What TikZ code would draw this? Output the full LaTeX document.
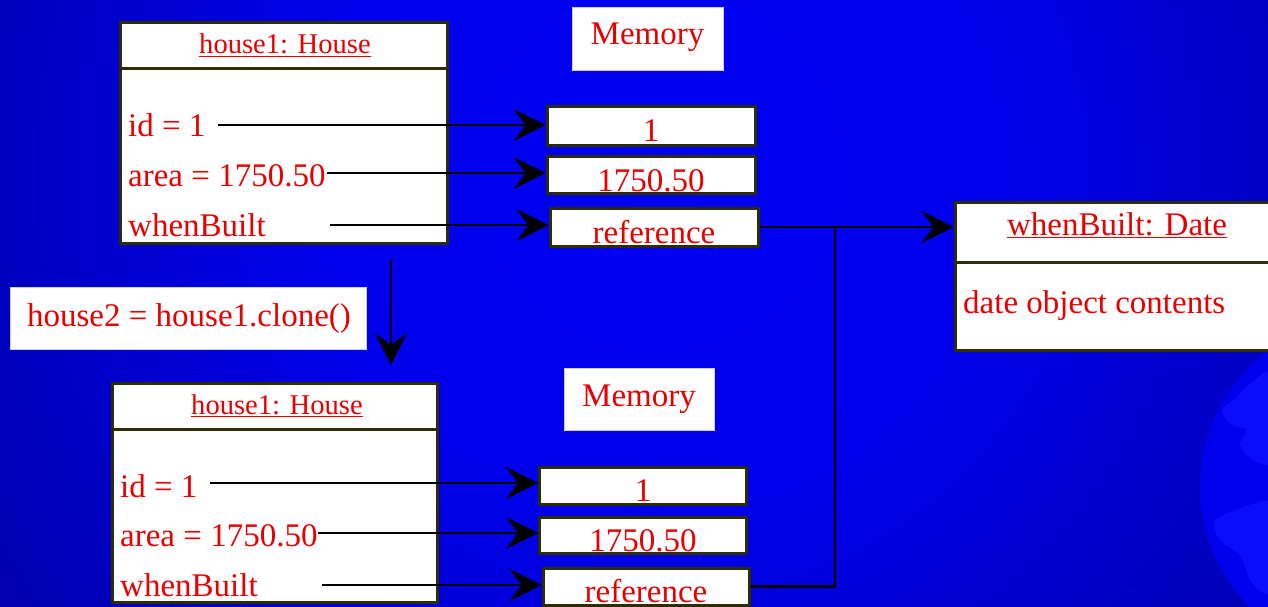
\documentclass[tikz,border=0pt]{standalone}
\usepackage{fontspec}
\newfontfamily\slidefont{Liberation Serif}
\usetikzlibrary{arrows.meta,calc}

\definecolor{txtred}{RGB}{232,0,0}
\definecolor{edge}{RGB}{45,45,5}
\definecolor{tagedge}{RGB}{205,205,235}
\definecolor{bgdeep}{RGB}{0,0,171}
\definecolor{globefill}{RGB}{0,0,236}
\definecolor{landfill}{RGB}{12,12,252}

% soft glow of the slide background (25bp = edge of the shaded circle)
\pgfdeclareradialshading{bgglow}{\pgfpoint{0bp}{0bp}}{%
  rgb(0bp)=(0,0,0.95); rgb(10bp)=(0,0,0.93); rgb(25bp)=(0,0,0.67); rgb(50bp)=(0,0,0.67)}

\begin{document}
\begin{tikzpicture}[x=1pt,y=-1pt,
  txt/.style={text=txtred, inner sep=0pt, font=\slidefont\fontsize{33}{38}\selectfont},
  hdr/.style={txt, font=\slidefont\fontsize{28.6}{34}\selectfont},
  cellbox/.style={draw=edge, line width=3pt, fill=white, inner sep=0pt},
  tagbox/.style={fill=white, draw=tagedge, line width=0.6pt, inner sep=0pt},
  uline/.style={draw=txtred, line width=1.4pt},
  link/.style={draw=black, line width=2.8pt},
  arr/.style={link, -{Stealth[length=32pt, width=32pt, inset=12pt]}},
]
\useasboundingbox (0,0) rectangle (1268,607);
\clip (0,0) rectangle (1268,607);

% background
\fill[bgdeep] (0,0) rectangle (1268,607);
\shade[shading=bgglow] (660,170) circle (820);

% globe in the lower right corner
\begin{scope}
  \clip (1370,487) circle (170);
  \fill[globefill] (1370,487) circle (170);
  \fill[landfill] plot[smooth cycle] coordinates {(1275,372) (1250,384) (1236,398) (1222,410) (1230,424) (1246,430) (1240,446) (1256,462) (1275,458)};
  \fill[landfill] plot[smooth cycle] coordinates {(1275,505) (1236,510) (1214,522) (1220,540) (1240,556) (1250,580) (1262,592) (1275,588)};
\end{scope}

% ---- house1 object (top) ----
\node[cellbox, minimum width=327, minimum height=46]  (hAh) at (283.5,46) {};
\node[cellbox, minimum width=327, minimum height=174] (hAb) at (283.5,156) {};
\node[hdr, anchor=base] (hAt) at (285,54) {house1: House};
\draw[uline] ([yshift=-2.5pt]hAt.base west) -- ([yshift=-2.5pt]hAt.base east);
\node[txt, anchor=base west] (hA1) at (128,136) {id = 1};
\node[txt, anchor=base west] (hA2) at (128,186) {area = 1750.50};
\node[txt, anchor=base west] (hA3) at (128,236) {whenBuilt};
\coordinate (sA1) at (218,125);
\coordinate (sA2) at (327,173);
\coordinate (sA3) at (330,225);

% memory cells (top)
\node[tagbox, minimum width=151, minimum height=63] (memA) at (647.5,38.5) {};
\node[txt, anchor=base] (memAt) at (647.5,45) {Memory};
\node[cellbox, minimum width=208, minimum height=38] (mA1) at (651,126) {};
\node[cellbox, minimum width=208, minimum height=37] (mA2) at (651,174.5) {};
\node[cellbox, minimum width=208, minimum height=38] (mA3) at (654,227) {};
\node[txt, anchor=base] (mA1t) at (651,141) {1};
\node[txt, anchor=base] (mA2t) at (651,191) {1750.50};
\node[txt, anchor=base] (mA3t) at (654,243) {reference};

\draw[arr] (sA1) -- (sA1 -| mA1.west);
\draw[arr] (sA2) -- (sA2 -| mA2.west);
\draw[arr] (sA3) -- (sA3 -| mA3.west);

% ---- the clone step ----
\node[tagbox, minimum width=356, minimum height=62] (cl) at (188,318) {};
\node[txt, anchor=base] (clt) at (189,326) {house2 = house1.clone()};
\coordinate (cA) at (391,259);
\coordinate (cB) at (391,365);
\draw[arr] (cA) -- (cB);

% ---- copied object (bottom) ----
\node[cellbox, minimum width=325, minimum height=46]  (hBh) at (274.5,406) {};
\node[cellbox, minimum width=325, minimum height=173] (hBb) at (274.5,515.5) {};
\node[hdr, anchor=base] (hBt) at (277,414) {house1: House};
\draw[uline] ([yshift=-2.5pt]hBt.base west) -- ([yshift=-2.5pt]hBt.base east);
\node[txt, anchor=base west] (hB1) at (120,497) {id = 1};
\node[txt, anchor=base west] (hB2) at (120,546) {area = 1750.50};
\node[txt, anchor=base west] (hB3) at (120,596) {whenBuilt};
\coordinate (sB1) at (210,483);
\coordinate (sB2) at (318,533);
\coordinate (sB3) at (322,585);

% memory cells (bottom)
\node[tagbox, minimum width=150, minimum height=62] (memB) at (639,399) {};
\node[txt, anchor=base] (memBt) at (639,406) {Memory};
\node[cellbox, minimum width=207, minimum height=37] (mB1) at (643,485.5) {};
\node[cellbox, minimum width=207, minimum height=36] (mB2) at (643,535) {};
\node[cellbox, minimum width=206, minimum height=37] (mB3) at (646,586.5) {};
\node[txt, anchor=base] (mB1t) at (643,501) {1};
\node[txt, anchor=base] (mB2t) at (643,551) {1750.50};
\node[txt, anchor=base] (mB3t) at (646,602) {reference};

\draw[arr] (sB1) -- (sB1 -| mB1.west);
\draw[arr] (sB2) -- (sB2 -| mB2.west);
\draw[arr] (sB3) -- (sB3 -| mB3.west);

% ---- shared Date object ----
\node[cellbox, minimum width=345, minimum height=60] (dh) at (1127.5,232) {};
\node[cellbox, minimum width=345, minimum height=88] (db) at (1127.5,306) {};
\node[txt, anchor=base] (dht) at (1117,235) {whenBuilt: Date};
\draw[uline] ([yshift=-2.5pt]dht.base west) -- ([yshift=-2.5pt]dht.base east);
\node[txt, anchor=base west] (dbt) at (963,313) {date object contents};

% both references lead to the same Date object
\coordinate (jn) at (835,227);
\draw[arr] (mA3.east) -- (mA3.east -| dh.west);
\draw[link] (mB3.east) -| (jn);
\end{tikzpicture}
\end{document}
